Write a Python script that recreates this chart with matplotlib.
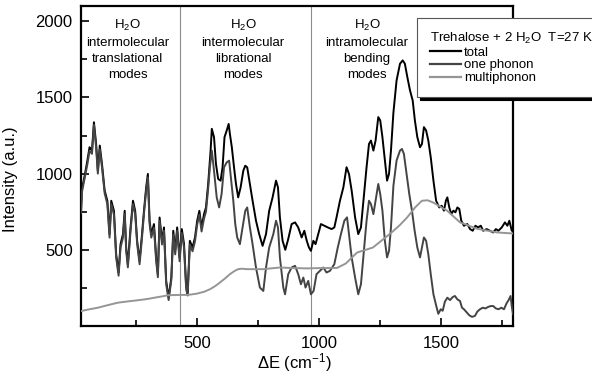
import matplotlib
matplotlib.use("Agg")
import matplotlib.pyplot as plt
from matplotlib.ticker import MultipleLocator

plt.rcParams['font.family'] = ['Liberation Sans', 'DejaVu Sans']
plt.rcParams['mathtext.default'] = 'regular'

# total spectrum
e_total = [25, 29, 40, 51, 60, 70, 78, 87, 94, 102, 111, 122, 133, 142, 149, 160, 169, 179, 187, 197,
           204, 210, 217, 228, 238, 247, 255, 265, 275, 283, 292, 299, 306, 313, 324, 333, 340, 347, 357,
           365, 374, 384, 395, 403, 411, 419, 429, 438, 447, 456, 462, 471, 482, 492, 501, 510, 519, 529,
           537, 546, 556, 561, 570, 578, 587, 597, 605, 613, 622, 630, 635, 643, 652, 660, 669, 679, 690,
           698, 706, 717, 728, 742, 755, 769, 783, 796, 810, 824, 832, 840, 851, 862, 874, 888, 902, 915,
           929, 940, 950, 959, 967, 977, 986, 997, 1008, 1022, 1036, 1052, 1063, 1072, 1086, 1100, 1113,
           1123, 1134, 1148, 1161, 1172, 1182, 1195, 1205, 1213, 1223, 1232, 1243, 1251, 1260, 1270, 1279,
           1287, 1295, 1305, 1318, 1332, 1343, 1352, 1362, 1373, 1384, 1393, 1403, 1414, 1422, 1430, 1439,
           1448, 1458, 1469, 1480, 1493, 1503, 1512, 1520, 1526, 1534, 1542, 1551, 1559, 1567, 1575, 1583,
           1594, 1608, 1619, 1630, 1641, 1652, 1663, 1673, 1687, 1701, 1714, 1725, 1735, 1749, 1762, 1772,
           1780, 1790, 1795]
i_total = [760, 899, 987, 1085, 1173, 1151, 1337, 1195, 1019, 1184, 1063, 888, 822, 603, 822, 756, 471, 351,
           537, 603, 756, 515, 405, 647, 822, 756, 559, 427, 603, 756, 910, 998, 691, 603, 669, 449, 340,
           712, 559, 647, 296, 186, 318, 625, 493, 647, 449, 636, 540, 260, 220, 559, 515, 581, 691, 756,
           647, 734, 778, 932, 1151, 1294, 1239, 1063, 965, 954, 1041, 1239, 1283, 1326, 1261, 1173, 1041,
           932, 844, 910, 1019, 1052, 1041, 932, 822, 691, 603, 526, 603, 756, 844, 954, 910, 712, 559, 500,
           570, 669, 680, 647, 581, 625, 559, 515, 493, 559, 537, 603, 669, 658, 647, 636, 647, 713, 822,
           910, 1042, 998, 888, 713, 603, 647, 822, 1042, 1195, 1217, 1151, 1217, 1371, 1349, 1239, 1086,
           954, 998, 1151, 1400, 1612, 1721, 1743, 1721, 1634, 1546, 1480, 1349, 1239, 1173, 1195, 1305,
           1283, 1217, 1107, 954, 822, 778, 789, 757, 822, 844, 778, 735, 757, 746, 778, 768, 691, 658, 669,
           636, 625, 658, 647, 658, 625, 636, 625, 614, 636, 625, 647, 680, 658, 691, 625, 640]

# one phonon contribution
e_one = [25, 29, 40, 51, 60, 70, 78, 87, 94, 102, 111, 122, 133, 142, 149, 160, 169, 179, 187, 197,
         204, 210, 217, 228, 238, 247, 255, 265, 275, 283, 292, 299, 306, 313, 324, 333, 340, 347, 357,
         365, 374, 384, 395, 403, 411, 419, 429, 438, 447, 456, 462, 471, 482, 492, 501, 510, 519, 529,
         537, 546, 553, 561, 570, 581, 591, 601, 611, 622, 632, 642, 649, 657, 665, 676, 687, 698, 706,
         717, 728, 742, 758, 772, 783, 796, 813, 824, 832, 840, 854, 861, 874, 888, 902, 915, 926, 936,
         945, 956, 967, 978, 990, 1004, 1018, 1031, 1045, 1063, 1077, 1090, 1104, 1115, 1123, 1134, 1148,
         1161, 1172, 1183, 1195, 1205, 1213, 1223, 1232, 1243, 1251, 1260, 1270, 1279, 1287, 1295, 1305,
         1318, 1332, 1340, 1348, 1359, 1370, 1381, 1392, 1403, 1414, 1422, 1430, 1439, 1448, 1458, 1469,
         1480, 1489, 1499, 1507, 1516, 1526, 1537, 1548, 1557, 1567, 1578, 1586, 1594, 1605, 1616, 1627,
         1639, 1649, 1660, 1671, 1682, 1693, 1704, 1714, 1725, 1736, 1747, 1758, 1769, 1777, 1785, 1790,
         1795]
i_one = [740, 880, 970, 1060, 1150, 1130, 1320, 1170, 1000, 1160, 1040, 870, 800, 580, 800, 730, 450, 330,
         515, 580, 735, 495, 385, 625, 800, 735, 540, 405, 580, 735, 890, 975, 670, 580, 645, 425, 320,
         690, 535, 625, 275, 170, 300, 600, 470, 625, 425, 610, 515, 240, 200, 535, 490, 555, 665, 730,
         620, 705, 750, 900, 1041, 1151, 1019, 844, 778, 866, 1041, 1074, 1085, 932, 822, 669, 581, 537,
         647, 756, 778, 647, 537, 383, 252, 230, 383, 515, 603, 691, 647, 449, 252, 208, 340, 384, 395,
         340, 274, 318, 252, 296, 208, 230, 340, 362, 384, 351, 362, 406, 515, 603, 691, 713, 603, 450,
         318, 208, 274, 471, 691, 822, 800, 734, 822, 932, 866, 757, 559, 450, 493, 647, 920, 1086, 1151,
         1162, 1129, 998, 866, 757, 625, 515, 450, 515, 581, 559, 471, 340, 208, 135, 80, 110, 100, 160,
         186, 170, 190, 197, 175, 164, 120, 110, 90, 70, 60, 66, 95, 110, 120, 115, 125, 131, 131, 115,
         110, 120, 110, 150, 170, 197, 130, 79]

# multiphonon contribution
e_multi = [25, 60, 94, 130, 176, 220, 258, 300, 327, 360, 381, 430, 463, 499, 530, 553, 575, 594, 615,
           635, 655, 669, 685, 704, 772, 840, 881, 950, 1000, 1074, 1110, 1156, 1221, 1291, 1330, 1361,
           1395, 1422, 1445, 1467, 1525, 1578, 1648, 1730, 1795]
i_multi = [98, 110, 120, 135, 153, 162, 169, 178, 186, 195, 202, 204, 204, 212, 225, 241, 262, 285, 312,
           340, 362, 373, 376, 373, 373, 384, 381, 378, 380, 381, 410, 482, 515, 605, 660, 712, 780, 822,
           825, 811, 757, 680, 638, 614, 607]

region_lines = [430, 967]
region_labels = ["H$_2$O\nintermolecular\ntranslational\nmodes",
                 "H$_2$O\nintermolecular\nlibrational\nmodes",
                 "H$_2$O\nintramolecular\nbending\nmodes"]
region_x = [217, 689, 1197]

fig = plt.figure(figsize=(5.92, 3.74), dpi=100)
ax = fig.add_axes([81/592, 1-326/374, 432/592, 320/374])

for xv in region_lines:
    ax.axvline(xv, color='#8c8c8c', lw=0.8, zorder=1)

ax.plot(e_total, i_total, color='black', lw=1.4, label='total', zorder=3)
ax.plot(e_one, i_one, color='#444444', lw=1.4, label='one phonon', zorder=4)
ax.plot(e_multi, i_multi, color='#959595', lw=1.4, label='multiphonon', zorder=5)

for xv, txt in zip(region_x, region_labels):
    ax.text(xv, 2025, txt, ha='center', va='top', fontsize=9.5, linespacing=1.45)

ax.set_xlim(25, 1795)
ax.set_ylim(0, 2100)
ax.xaxis.set_major_locator(MultipleLocator(500))
ax.xaxis.set_minor_locator(MultipleLocator(250))
ax.yaxis.set_major_locator(MultipleLocator(500))
ax.yaxis.set_minor_locator(MultipleLocator(250))
ax.set_yticks([500, 1000, 1500, 2000])
ax.tick_params(which='both', direction='in', width=1.2, labelsize=12)
ax.tick_params(which='major', length=6)
ax.tick_params(which='minor', length=4)
ax.tick_params(axis='x', pad=7)
ax.tick_params(axis='y', pad=6)
for sp in ax.spines.values():
    sp.set_linewidth(1.6)

ax.set_xlabel("ΔE (cm$^{-1}$)", fontsize=12, va='center')
ax.set_ylabel("Intensity (a.u.)", fontsize=12)
ax.xaxis.set_label_coords(0.495, -0.113)
ax.yaxis.set_label_coords(-0.145, 0.46)

leg = ax.legend(loc='upper left', bbox_to_anchor=(417/592, 1-18/374), bbox_transform=fig.transFigure,
                title="Trehalose + 2 H$_2$O  T=27 K", title_fontsize=9.5, fontsize=9.5,
                frameon=True, fancybox=False, shadow={'color': 'black', 'alpha': 1},
                edgecolor='#555555', framealpha=1, handlelength=2.4, handletextpad=0.2,
                labelspacing=0.05, borderpad=0.95, borderaxespad=0, alignment='left')
leg.get_frame().set_linewidth(0.8)
leg.set_zorder(10)
for ln in leg.get_lines():
    ln.set_linewidth(1.6)

fig.savefig("out.png", dpi=100)
